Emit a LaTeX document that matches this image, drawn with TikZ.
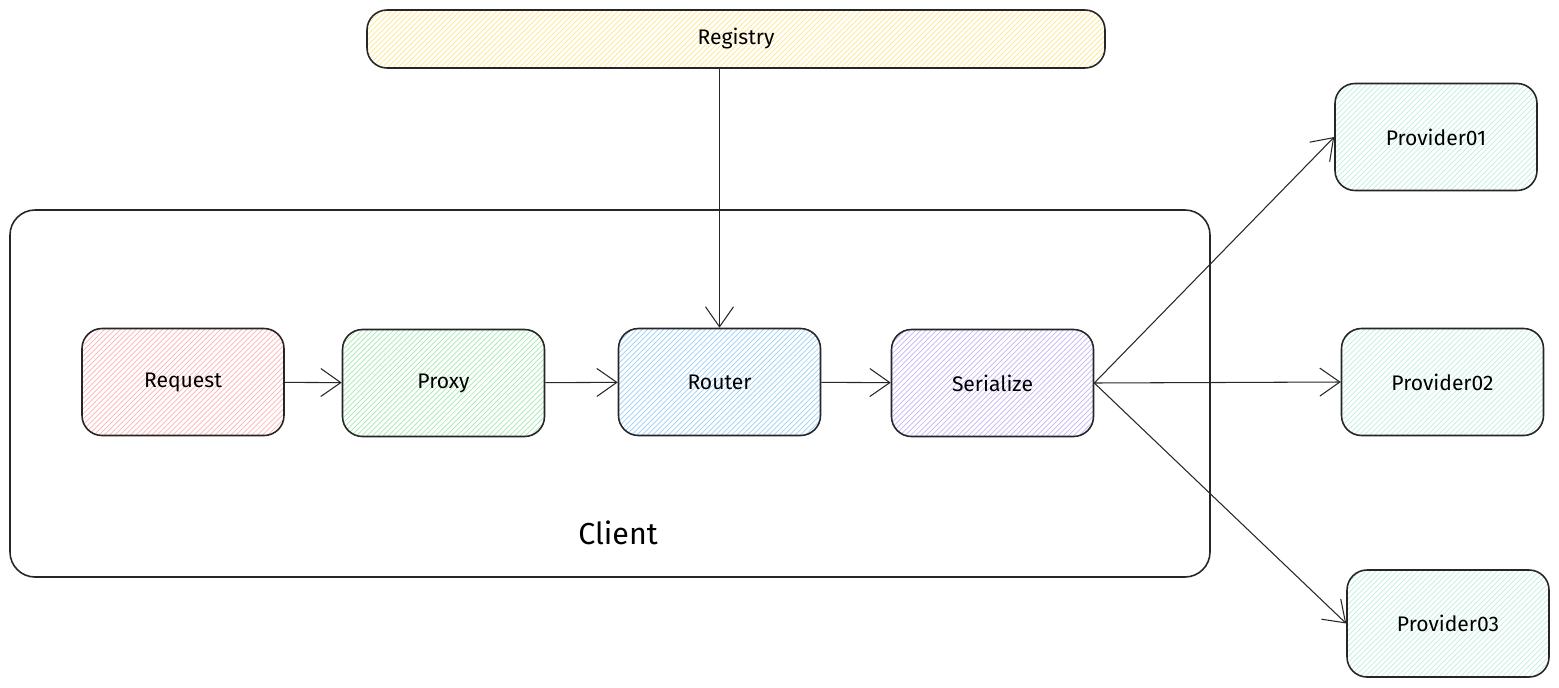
\documentclass[tikz,border=0pt]{standalone}
\usepackage{fontspec}
\setmainfont{Fira Sans}
\usepackage{tikz}
\usetikzlibrary{arrows.meta}
\usetikzlibrary{patterns}

\definecolor{regyellow}{HTML}{FFE58A}
\definecolor{reqred}{HTML}{FFB3B3}
\definecolor{proxgreen}{HTML}{A3E9AE}
\definecolor{routblue}{HTML}{9ACFF7}
\definecolor{serpurple}{HTML}{C6B5F7}
\definecolor{provcyan}{HTML}{BFEDE0}

\tikzset{
    box/.style={draw=black!85, line width=0.9pt, rounded corners=0.4cm,
        minimum width=4.04cm, minimum height=2.14cm, font=\large},
    hatch/.style={pattern=north east lines, pattern color=#1},
    link/.style={->, line width=0.6pt, black!85},
}

\begin{document}
\begin{tikzpicture}[>={Straight Barb[length=0.4cm, width=0.56cm]}]
    \useasboundingbox (0,0) rectangle (31.18,-13.74);

    % client frame
    \draw[line width=0.9pt, rounded corners=0.5cm, black!85] (0.2,-4.2) rectangle (24.2,-11.54);
    \node[font=\LARGE] (client) at (12.36,-10.66) {Client};

    \node[box, hatch=regyellow, minimum width=14.76cm, minimum height=1.16cm] (registry) at (14.72,-0.78) {Registry};

    \node[box, hatch=reqred]    (request)   at (3.66,-7.64)  {Request};
    \node[box, hatch=proxgreen] (proxy)     at (8.87,-7.66)  {Proxy};
    \node[box, hatch=routblue]  (router)    at (14.39,-7.64) {Router};
    \node[box, hatch=serpurple] (serialize) at (19.85,-7.66) {Serialize};

    \node[box, hatch=provcyan] (prov1) at (28.72,-2.74)  {Provider01};
    \node[box, hatch=provcyan] (prov2) at (28.85,-7.64)  {Provider02};
    \node[box, hatch=provcyan] (prov3) at (28.96,-12.47) {Provider03};

    \draw[link] (registry.south -| router.north) -- (router.north);

    \draw[link] (request) -- (proxy);
    \draw[link] (proxy) -- (router);
    \draw[link] (router) -- (serialize);

    \draw[link] (serialize.east) -- (prov1.west);
    \draw[link] (serialize.east) -- (prov2.west);
    \draw[link] (serialize.east) -- (prov3.west);

  \end{tikzpicture}
\end{document}
